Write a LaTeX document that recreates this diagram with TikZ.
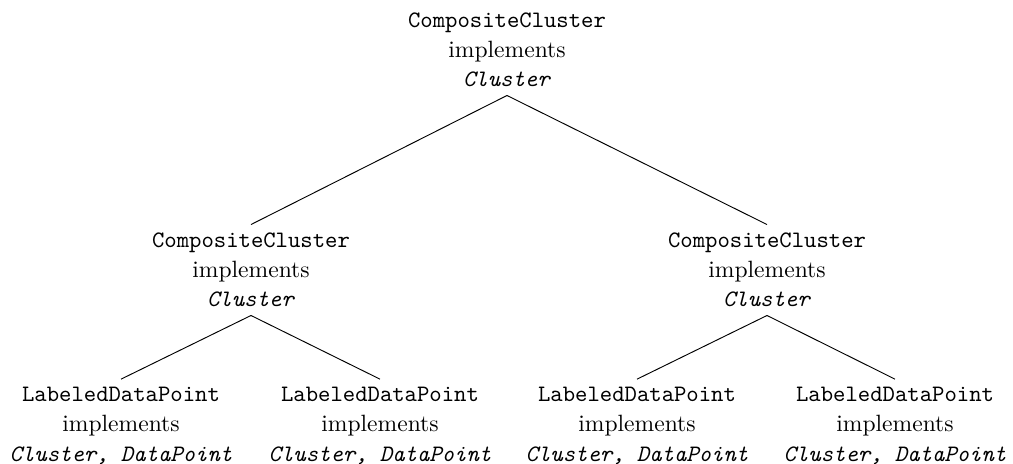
\documentclass[tikz,border=0pt]{standalone}
\begin{document}
\begin{tikzpicture}[x=0.4243pt,y=-0.4243pt,
  tnode/.style={align=center, inner sep=3.33pt, font=\fontsize{10}{12.6}\selectfont},
  conn/.style={draw, line width=0.4pt}]
\useasboundingbox (0,0) rectangle (1013,463);
\node[tnode] (root) at (507,50) {\texttt{CompositeCluster}\\implements\\\texttt{\itshape Cluster}};
\node[tnode] (ml) at (251,270) {\texttt{CompositeCluster}\\implements\\\texttt{\itshape Cluster}};
\node[tnode] (mr) at (767,270) {\texttt{CompositeCluster}\\implements\\\texttt{\itshape Cluster}};
\node[tnode] (l1) at (121,426) {\texttt{LabeledDataPoint}\\implements\\\texttt{\itshape Cluster, DataPoint}};
\node[tnode] (l2) at (380,426) {\texttt{LabeledDataPoint}\\implements\\\texttt{\itshape Cluster, DataPoint}};
\node[tnode] (l3) at (637,426) {\texttt{LabeledDataPoint}\\implements\\\texttt{\itshape Cluster, DataPoint}};
\node[tnode] (l4) at (895,426) {\texttt{LabeledDataPoint}\\implements\\\texttt{\itshape Cluster, DataPoint}};
\draw[conn] (root.south) -- (ml.north);
\draw[conn] (root.south) -- (mr.north);
\draw[conn] (ml.south) -- (l1.north);
\draw[conn] (ml.south) -- (l2.north);
\draw[conn] (mr.south) -- (l3.north);
\draw[conn] (mr.south) -- (l4.north);
\end{tikzpicture}
\end{document}
